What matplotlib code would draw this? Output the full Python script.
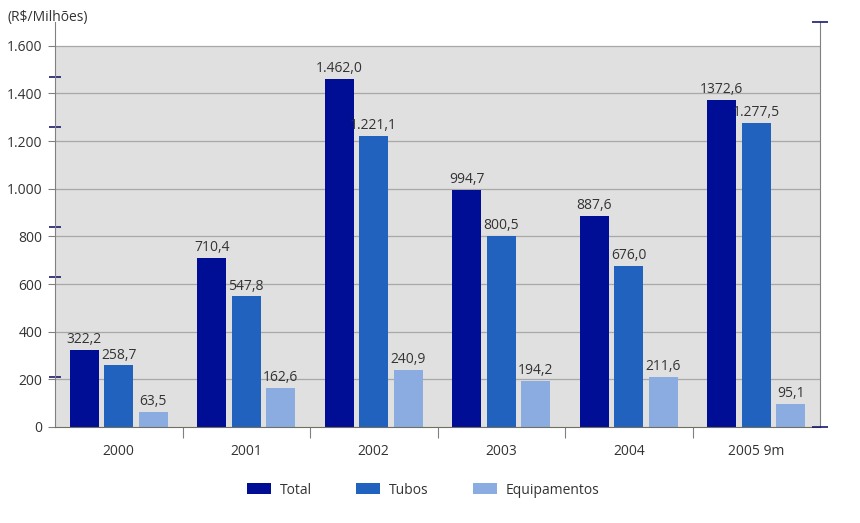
import matplotlib
matplotlib.use("Agg")
import matplotlib.pyplot as plt
import numpy as np
from matplotlib.patches import Patch

categories = ["2000", "2001", "2002", "2003", "2004", "2005 9m"]
total = [322.2, 710.4, 1462.0, 994.7, 887.6, 1372.6]
tubos = [258.7, 547.8, 1221.1, 800.5, 676.0, 1277.5]
equip = [63.5, 162.6, 240.9, 194.2, 211.6, 95.1]
total_lbl = ["322,2", "710,4", "1.462,0", "994,7", "887,6", "1372,6"]
tubos_lbl = ["258,7", "547,8", "1.221,1", "800,5", "676,0", "1.277,5"]
equip_lbl = ["63,5", "162,6", "240,9", "194,2", "211,6", "95,1"]
series_names = ["Total", "Tubos", "Equipamentos"]
yticks = [0, 200, 400, 600, 800, 1000, 1200, 1400, 1600]
ytick_lbls = ["0", "200", "400", "600", "800", "1.000", "1.200", "1.400", "1.600"]

colors = ["#000E96", "#2262BF", "#8AACE0"]
txt = "#333333"
font = "Open Sans"

fig = plt.figure(figsize=(8.6, 5.23), dpi=100)
ax = fig.add_axes([55/860, 1-427/523, 765/860, 405/523])
ax.set_facecolor("none")
ax.set_xlim(-0.5, len(categories)-0.5)
ax.set_ylim(0, 1700)

# gray plot background up to 1600
ax.axhspan(0, 1600, color="#E0E0E0", zorder=0, lw=0)
for t in yticks[1:]:
    ax.axhline(t, color="#A8A8A8", lw=0.9, zorder=1)

x = np.arange(len(categories))
off = 0.27
w = 0.228
data = [total, tubos, equip]
lbls = [total_lbl, tubos_lbl, equip_lbl]
for i, (vals, lb) in enumerate(zip(data, lbls)):
    pos = x + (i-1)*off
    ax.bar(pos, vals, width=w, color=colors[i], zorder=2)
    for p, v, s in zip(pos, vals, lb):
        ax.text(p, v + 12, s, ha="center", va="bottom", fontsize=10,
                color=txt, family=font, zorder=3)

# spines
ax.spines["top"].set_visible(False)
ax.spines["left"].set_color("#808080")
ax.spines["right"].set_color("#808080")
ax.spines["bottom"].set_color("#707060")
ax.spines["bottom"].set_zorder(4)

ax.set_yticks(yticks)
ax.set_yticklabels(ytick_lbls, family=font, fontsize=10, color=txt)
ax.tick_params(axis="y", length=5, color="#808080", pad=4)
# decorative navy ticks on left spine
ax.set_yticks([210, 630, 840, 1260, 1470], minor=True)
ax.tick_params(axis="y", which="minor", direction="inout", length=9,
               color="#1A1A70", width=1.2)

ax.set_xticks(x[:-1] + 0.5)
ax.set_xticklabels([])
ax.tick_params(axis="x", length=8, color="#808080", direction="out")
ax.set_xticks(x, minor=True)
ax.set_xticklabels(categories, minor=True, family=font, fontsize=10, color=txt)
ax.tick_params(axis="x", which="minor", length=0, pad=12)

ax2 = ax.twinx()
ax2.set_ylim(0, 1700)
ax2.set_yticks([0, 1700])
ax2.set_yticklabels([])
ax2.tick_params(axis="y", direction="inout", length=12, color="#1A1A70", width=1.2)
for s in ["top", "left", "bottom", "right"]:
    ax2.spines[s].set_visible(False)

fig.text(8/860, 1-18/523, "(R$/Milhões)", ha="left", va="center",
         fontsize=10, color=txt, family=font)

handles = [Patch(facecolor=c, edgecolor="none") for c in colors]
fig.legend(handles, series_names, loc="center", bbox_to_anchor=(423/860, 1-490/523),
           ncol=3, frameon=False, prop={"family": font, "size": 10},
           handlelength=1.75, handleheight=0.8, handletextpad=0.6,
           columnspacing=3.2, labelcolor=txt)

fig.savefig("out.png", dpi=100)
